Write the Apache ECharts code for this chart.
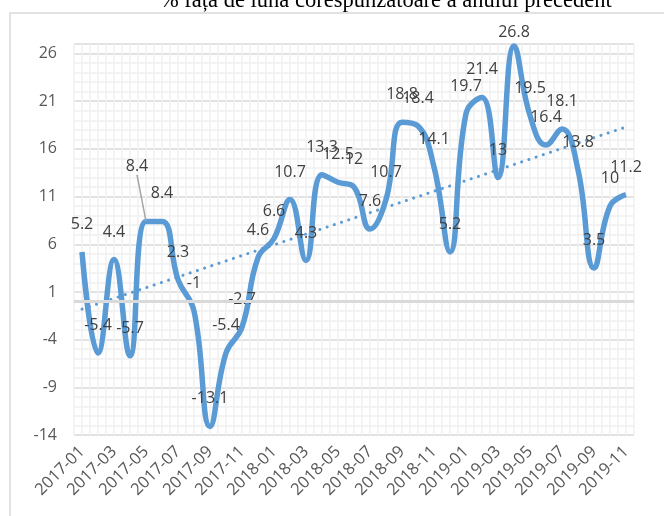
<!DOCTYPE html>
<html>
<head>
<meta charset="utf-8">
<script src="https://cdn.jsdelivr.net/npm/echarts@6/dist/echarts.min.js"></script>
<style>
  html, body { margin: 0; padding: 0; background: #fff; }
  #main { width: 664px; height: 516px; }
</style>
</head>
<body>
<div id="main"></div>
<script>
// luni si valori (%)
var luni = ['2017-01','2017-02','2017-03','2017-04','2017-05','2017-06','2017-07','2017-08','2017-09','2017-10','2017-11','2017-12',
            '2018-01','2018-02','2018-03','2018-04','2018-05','2018-06','2018-07','2018-08','2018-09','2018-10','2018-11','2018-12',
            '2019-01','2019-02','2019-03','2019-04','2019-05','2019-06','2019-07','2019-08','2019-09','2019-10','2019-11'];
var valori = [5.2, -5.4, 4.4, -5.7, 8.4, 8.4, 2.3, -1, -13.1, -5.4, -2.7, 4.6,
              6.6, 10.7, 4.3, 13.3, 12.5, 12, 7.6, 10.7, 18.8, 18.4, 14.1, 5.2,
              19.7, 21.4, 13, 26.8, 19.5, 16.4, 18.1, 13.8, 3.5, 10, 11.2];
// capetele liniei de tendinta
var trendLuni = ['2017-01', '2019-11'];
var trendValori = [-0.8, 18.3];
var titlu = '% față de luna corespunzătoare a anului precedent';

var chart = echarts.init(document.getElementById('main'));
var albastru = '#5b9bd5';

// eticheta mutata manual (2017-05) are linie de legatura
var dateSerie = valori.map(function (v, i) {
    return {
        value: v,
        labelLine: { show: i === 4, lineStyle: { color: '#a6a6a6', width: 1.5 } }
    };
});

var option = {
    animation: false,
    textStyle: { fontFamily: 'Open Sans' },
    graphic: [
        {
            type: 'rect', z: -10, silent: true,
            shape: { x: 10, y: 13, width: 700, height: 600 },
            style: { fill: 'none', stroke: '#d9d9d9', lineWidth: 1.5 }
        },
        {
            type: 'text', left: 160, top: -10,
            style: { text: titlu, font: '22.5px "Liberation Serif"', fill: '#000' }
        }
    ],
    grid: { left: 74, right: 30, top: 44, bottom: 81 },
    xAxis: [
        {
            type: 'category',
            data: luni,
            boundaryGap: true,
            axisLine: { show: false },
            axisTick: { show: false },
            splitLine: { show: false },
            axisLabel: {
                interval: 1, rotate: 45, margin: 14,
                color: '#595959', fontSize: 16.5, fontFamily: 'Open Sans'
            }
        },
        {
            // doar pentru liniile verticale fine ale grilei
            type: 'value', min: 0, max: 70, interval: 1,
            position: 'bottom',
            axisLine: { show: false }, axisTick: { show: false }, axisLabel: { show: false },
            splitLine: { show: true, lineStyle: { color: '#f0f0f0', width: 1.5 } }
        }
    ],
    yAxis: {
        type: 'value',
        min: -14, max: 27, interval: 5,
        axisLine: { show: false },
        axisTick: { show: false },
        axisLabel: { color: '#595959', fontSize: 16, margin: 17, showMaxLabel: false },
        splitLine: { lineStyle: { color: '#d9d9d9', width: 1.5 } },
        minorTick: { show: false, splitNumber: 5 },
        minorSplitLine: { show: true, lineStyle: { color: '#f0f0f0', width: 1.5 } }
    },
    series: [
        {
            name: 'trend',
            type: 'line',
            data: [[trendLuni[0], trendValori[0]], [trendLuni[1], trendValori[1]]],
            symbol: 'none',
            z: 3,
            lineStyle: { color: albastru, width: 3, type: [0.1, 7.5], cap: 'round' },
            markLine: {
                silent: true, symbol: 'none', label: { show: false },
                lineStyle: { color: '#d9d9d9', width: 3, type: 'solid' },
                data: [{ yAxis: 0 }]
            }
        },
        {
            name: 'valori',
            type: 'line',
            data: dateSerie,
            smooth: 0.45,
            symbol: 'circle',
            symbolSize: 1,
            showSymbol: true,
            itemStyle: { color: 'rgba(0,0,0,0)' },
            z: 4,
            lineStyle: { color: albastru, width: 5.5 },
            label: {
                show: true, position: 'top', distance: 19,
                color: '#404040', fontSize: 16, fontFamily: 'Open Sans'
            },
            labelLine: { show: false },
            labelLayout: function (p) {
                if (p.dataIndex === 4) return { dx: -9, dy: -27 };
                if (p.dataIndex === 27) return { dy: 14 };
                return {};
            }
        }
    ]
};

chart.setOption(option);
</script>
</body>
</html>
